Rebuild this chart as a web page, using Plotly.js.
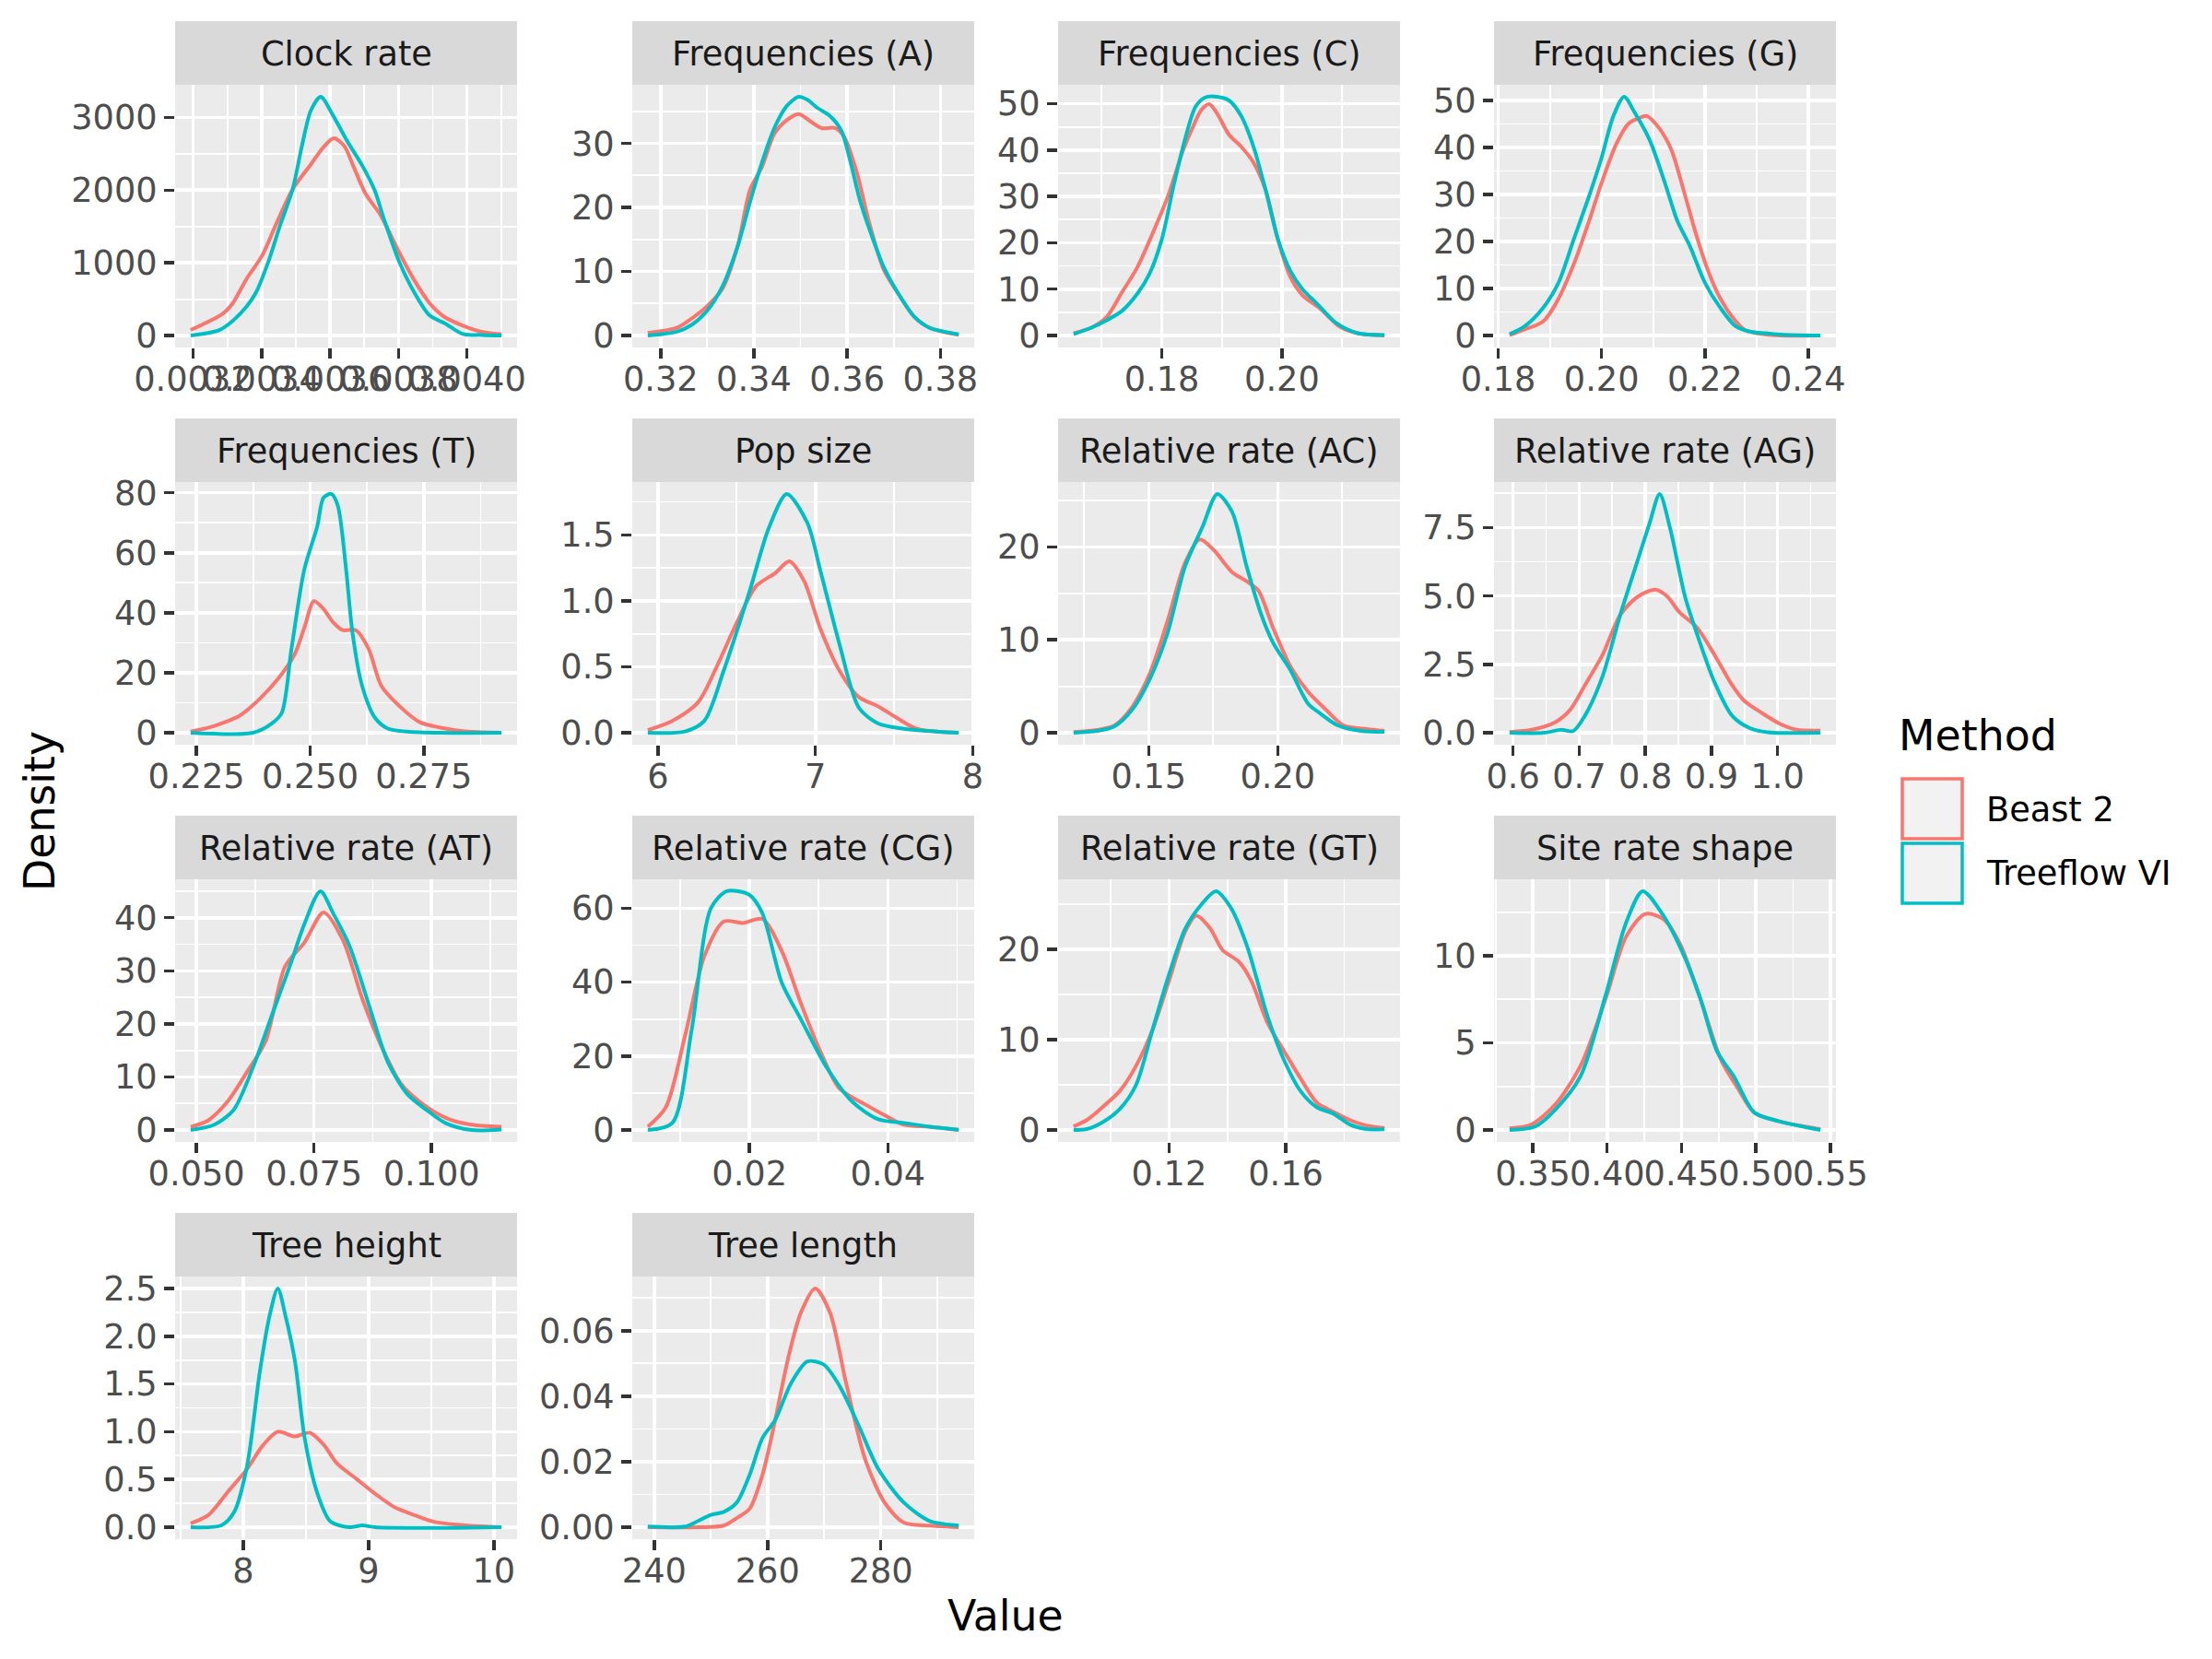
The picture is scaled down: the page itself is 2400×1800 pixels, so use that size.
<!DOCTYPE html>
<html><head><meta charset="utf-8">
<script src="https://cdn.plot.ly/plotly-3.0.1.min.js"></script>
<style>html,body{margin:0;padding:0;background:#fff}</style>
</head><body><div id="chart" style="width:2400px;height:1800px"></div>
<script>
// ---------------- data ----------------
const facetNames = ["Clock rate","Frequencies (A)","Frequencies (C)","Frequencies (G)",
  "Frequencies (T)","Pop size","Relative rate (AC)","Relative rate (AG)",
  "Relative rate (AT)","Relative rate (CG)","Relative rate (GT)","Site rate shape",
  "Tree height","Tree length"];
const methodNames = ["Beast 2","Treeflow VI"];
const methodColors = ["#F8766D","#00BFC4"];

// Clock rate
const clockBeastX = [0.003193,0.003286,0.003313,0.003357,0.003402,0.003446,0.003491,0.003544,0.003580,0.003611,0.003642,0.003668,0.003704,0.003748,0.003802,0.003846,0.003891,0.003935,0.003997,0.004042,0.004101];
const clockBeastY = [76,297,424,784,1102,1568,2013,2352,2585,2712,2606,2331,1949,1653,1144,763,445,254,119,51,17];
const clockTreeX = [0.003193,0.003277,0.003313,0.003357,0.003384,0.003420,0.003455,0.003491,0.003517,0.003544,0.003573,0.003606,0.003651,0.003695,0.003731,0.003757,0.003802,0.003846,0.003891,0.003935,0.003988,0.004042,0.004101];
const clockTreeY = [0,76,191,403,593,1017,1525,2013,2585,3093,3284,3051,2669,2331,1992,1610,1017,593,275,169,21,8,0];
const clockXTicks = [0.0032,0.0034,0.0036,0.0038,0.0040];
const clockXLabels = ["0.0032","0.0034","0.0036","0.0038","0.0040"];
const clockYTicks = [0,1000,2000,3000];
const clockYLabels = ["0","1000","2000","3000"];

// Frequencies (A)
const freqABeastX = [0.31725,0.32346,0.32673,0.33,0.33327,0.33654,0.33915,0.34176,0.34438,0.34699,0.34961,0.35222,0.35451,0.35745,0.35941,0.36203,0.36464,0.36791,0.37118,0.37444,0.37771,0.38392];
const freqABeastY = [0.4,1.2,2.7,4.6,7.3,14.0,22.7,26.4,31.5,33.6,34.6,33.4,32.4,32.4,31.0,25.6,17.9,10.2,6.3,2.9,1.2,0.1];
const freqATreeX = [0.31725,0.32346,0.32673,0.33,0.33327,0.33654,0.33915,0.34176,0.34438,0.34699,0.34961,0.35157,0.35353,0.35614,0.35876,0.36072,0.36268,0.36464,0.36791,0.37118,0.37444,0.37771,0.38392];
const freqATreeY = [0,0.6,1.7,3.9,7.7,14.0,20.8,27.1,32.4,35.8,37.3,36.8,35.6,34.4,32.0,27.1,21.3,16.9,10.6,6.3,2.9,1.2,0.2];
const freqAXTicks = [0.32,0.34,0.36,0.38];
const freqAXLabels = ["0.32","0.34","0.36","0.38"];
const freqAYTicks = [0,10,20,30];
const freqAYLabels = ["0","10","20","30"];

// Frequencies (C)
const freqCBeastX = [0.16534,0.16830,0.17084,0.17338,0.17593,0.17847,0.18102,0.18356,0.18509,0.18662,0.18789,0.18916,0.19120,0.19323,0.19527,0.19730,0.19934,0.20137,0.20341,0.20646,0.20952,0.21257,0.21705];
const freqCBeastY = [0.5,1.7,4.0,9.3,14.7,22.0,30.0,40.0,44.7,48.7,49.9,48.0,43.3,40.7,37.3,31.3,20.7,12.7,8.7,5.7,2.0,0.5,0];
const freqCTreeX = [0.16534,0.16830,0.17084,0.17338,0.17593,0.17796,0.18,0.18204,0.18407,0.18560,0.18712,0.18916,0.19120,0.19323,0.19527,0.19730,0.19934,0.20137,0.20341,0.20595,0.20901,0.21257,0.21705];
const freqCTreeY = [0.3,1.7,3.3,5.3,9.0,13.3,20.7,32.7,43.3,49.3,51.3,51.5,50.7,47.3,40.7,31.3,20.7,14.0,10.0,6.7,2.7,0.5,0.1];
const freqCXTicks = [0.18,0.20];
const freqCXLabels = ["0.18","0.20"];
const freqCYTicks = [0,10,20,30,40,50];
const freqCYLabels = ["0","10","20","30","40","50"];

// Frequencies (G)
const freqGBeastX = [0.18219,0.18514,0.18869,0.19106,0.19460,0.19756,0.19992,0.20288,0.20524,0.20761,0.20879,0.21116,0.21352,0.21589,0.21825,0.22062,0.22298,0.22534,0.22771,0.23126,0.23480,0.24237];
const freqGBeastY = [0.1,1.3,3.0,6.6,15.1,24.3,32.2,40.8,45.1,46.4,46.7,44.1,39.5,30.9,21.7,13.8,7.9,3.9,1.2,0.3,0,0];
const freqGTreeX = [0.18219,0.18514,0.18869,0.19165,0.19460,0.19756,0.19992,0.20229,0.20436,0.20643,0.20938,0.21234,0.21470,0.21707,0.22002,0.22298,0.22594,0.22889,0.23185,0.23480,0.24237];
const freqGTreeY = [0.3,2.0,5.9,11.2,20.4,29.6,37.5,46.7,50.8,47.4,41.4,32.2,24.3,19.1,11.2,5.9,2.0,0.8,0.5,0.2,0];
const freqGXTicks = [0.18,0.20,0.22,0.24];
const freqGXLabels = ["0.18","0.20","0.22","0.24"];
const freqGYTicks = [0,10,20,30,40,50];
const freqGYLabels = ["0","10","20","30","40","50"];

// Frequencies (T)
const freqTBeastX = [0.22373,0.22896,0.23460,0.23884,0.24308,0.24661,0.24873,0.25085,0.25297,0.25509,0.25720,0.26003,0.26285,0.26568,0.26992,0.27415,0.27839,0.28404,0.29209];
const freqTBeastY = [0.4,2.3,5.8,11.2,18.2,26.2,35.0,43.9,41.2,36.8,34.2,34.2,28.0,15.6,8.5,3.5,1.8,0.5,0];
const freqTTreeX = [0.22373,0.23743,0.24167,0.24378,0.24590,0.24873,0.25155,0.25297,0.25466,0.25607,0.25791,0.25932,0.26144,0.26426,0.26709,0.27133,0.27839,0.29209];
const freqTTreeY = [0,0,3.2,6.7,28.0,54.5,68.7,78.4,79.6,75.8,54.5,33.3,15.6,5.0,1.4,0.4,0,0];
const freqTXTicks = [0.225,0.250,0.275];
const freqTXLabels = ["0.225","0.250","0.275"];
const freqTYTicks = [0,20,40,60,80];
const freqTYLabels = ["0","20","40","60","80"];

// Pop size
const popBeastX = [5.935,6.090,6.254,6.376,6.499,6.622,6.744,6.834,6.928,7.031,7.153,7.276,7.399,7.521,7.644,7.910];
const popBeastY = [0.02,0.09,0.23,0.51,0.83,1.11,1.21,1.30,1.15,0.79,0.47,0.27,0.20,0.11,0.03,0];
const popTreeX = [5.935,6.172,6.294,6.417,6.581,6.703,6.818,6.949,7.031,7.153,7.276,7.399,7.562,7.910];
const popTreeY = [0,0.01,0.09,0.47,1.07,1.55,1.81,1.59,1.23,0.67,0.19,0.07,0.03,0];
const popXTicks = [6,7,8];
const popXLabels = ["6","7","8"];
const popYTicks = [0,0.5,1.0,1.5];
const popYLabels = ["0.0","0.5","1.0","1.5"];

// Relative rate (AC)
const acBeastX = [0.12091,0.13,0.13682,0.14364,0.15045,0.15727,0.16409,0.16977,0.17545,0.18227,0.18795,0.1925,0.19818,0.205,0.21182,0.21864,0.22545,0.23455,0.24136];
const acBeastY = [0.07,0.3,0.8,2.8,6.4,12.0,18.3,20.8,19.6,17.3,16.3,15.3,11.3,7.1,4.4,2.5,0.8,0.4,0.2];
const acTreeX = [0.12091,0.13,0.13682,0.14364,0.15045,0.15727,0.16409,0.17091,0.17659,0.18227,0.18795,0.19364,0.19818,0.205,0.21182,0.21636,0.22318,0.23227,0.24136];
const acTreeY = [0,0.2,0.7,2.5,5.8,10.7,17.9,22.2,25.7,23.8,17.9,12.7,9.7,6.7,3.1,2.1,0.8,0.2,0.1];
const acXTicks = [0.15,0.20];
const acXLabels = ["0.15","0.20"];
const acYTicks = [0,10,20];
const acYLabels = ["0","10","20"];

// Relative rate (AG)
const agBeastX = [0.5947,0.6285,0.6641,0.6864,0.7086,0.7354,0.7621,0.7888,0.8155,0.8333,0.8511,0.8778,0.9046,0.9313,0.9491,0.9758,1.0025,1.0292,1.0648];
const agBeastY = [0.03,0.11,0.39,0.84,1.74,2.85,4.31,4.98,5.23,4.98,4.42,3.86,2.85,1.74,1.18,0.73,0.34,0.11,0.08];
const agTreeX = [0.5947,0.6463,0.6730,0.6908,0.7086,0.7354,0.7621,0.7888,0.8066,0.8217,0.8378,0.8600,0.8778,0.9046,0.9313,0.9580,0.9847,1.0648];
const agTreeY = [0,0,0.11,0.06,0.62,2.07,4.31,6.33,7.67,8.73,7.44,4.98,3.64,1.85,0.62,0.17,0.02,0];
const agXTicks = [0.6,0.7,0.8,0.9,1.0];
const agXLabels = ["0.6","0.7","0.8","0.9","1.0"];
const agYTicks = [0,2.5,5.0,7.5];
const agYLabels = ["0.0","2.5","5.0","7.5"];

// Relative rate (AT)
const atBeastX = [0.04877,0.05246,0.05656,0.06066,0.06475,0.06885,0.07295,0.07705,0.08115,0.08525,0.08934,0.09344,0.09754,0.10301,0.10847,0.11489];
const atBeastY = [0.6,1.8,5.3,10.8,16.8,30.8,35.3,41.0,35.8,24.8,15.8,8.8,5.3,2.3,1.0,0.6];
const atTreeX = [0.04877,0.05383,0.05792,0.06202,0.06612,0.07022,0.07295,0.07637,0.07910,0.08251,0.08661,0.09071,0.09481,0.09891,0.10301,0.10847,0.11489];
const atTreeY = [0,1.0,3.8,11.8,21.8,31.8,38.8,45.0,40.8,34.8,23.8,12.8,6.8,3.8,1.3,0,0.1];
const atXTicks = [0.050,0.075,0.100];
const atXLabels = ["0.050","0.075","0.100"];
const atYTicks = [0,10,20,30,40];
const atYLabels = ["0","10","20","30","40"];

// Relative rate (CG)
const cgBeastX = [0.00530,0.00791,0.01070,0.01349,0.01628,0.01907,0.02186,0.02465,0.02744,0.03023,0.03302,0.03674,0.03953,0.04233,0.04605,0.05023];
const cgBeastY = [0.9,6.2,25.6,47.1,56.4,56.0,57.1,48.5,34.2,21.3,11.2,6.9,4.0,1.4,0.9,0];
const cgTreeX = [0.00530,0.00884,0.01163,0.01442,0.01674,0.02,0.02186,0.02465,0.02744,0.03116,0.03488,0.03860,0.04233,0.04605,0.05023];
const cgTreeY = [0,1.9,27.0,60.0,64.6,63.6,58.6,39.9,29.9,16.9,7.6,2.9,1.9,0.9,0.1];
const cgXTicks = [0.02,0.04];
const cgXLabels = ["0.02","0.04"];
const cgYTicks = [0,20,40,60];
const cgYLabels = ["0","20","40","60"];

// Relative rate (GT)
const gtBeastX = [0.08732,0.09183,0.09746,0.10310,0.10873,0.11437,0.12,0.12563,0.12930,0.13408,0.13831,0.14394,0.14817,0.15380,0.15944,0.16507,0.17070,0.17634,0.18197,0.18761,0.19380];
const gtBeastY = [0.4,1.1,2.6,4.3,7.1,11.1,16.5,22.0,23.7,22.3,19.9,18.6,16.5,11.8,8.7,5.7,3.0,2.0,1.1,0.5,0.2];
const gtTreeX = [0.08732,0.09183,0.09746,0.10310,0.10873,0.11437,0.12,0.12563,0.13127,0.13606,0.14113,0.14676,0.15380,0.15944,0.16507,0.17070,0.17634,0.18197,0.18761,0.19380];
const gtTreeY = [0,0.1,0.9,2.3,5.0,11.1,17.2,22.3,25.0,26.4,24.6,20.3,12.5,7.7,4.3,2.5,1.8,0.6,0.1,0.07];
const gtXTicks = [0.12,0.16];
const gtXLabels = ["0.12","0.16"];
const gtYTicks = [0,10,20];
const gtYLabels = ["0","10","20"];

// Site rate shape
const siteBeastX = [0.33444,0.34889,0.36556,0.38222,0.39889,0.41278,0.42556,0.43778,0.44889,0.46278,0.47667,0.48778,0.49889,0.51556,0.54333];
const siteBeastY = [0.1,0.3,1.5,3.7,7.5,11.1,12.4,12.1,10.7,7.5,4.0,2.4,1.0,0.5,0.05];
const siteTreeX = [0.33444,0.35167,0.36556,0.38222,0.39889,0.41278,0.42389,0.43778,0.45167,0.46278,0.47389,0.48500,0.49889,0.51556,0.54333];
const siteTreeY = [0,0.2,1.2,3.1,7.7,11.9,13.7,12.3,10.0,7.5,4.5,3.1,1.0,0.5,0];
const siteXTicks = [0.35,0.40,0.45,0.50,0.55];
const siteXLabels = ["0.35","0.40","0.45","0.50","0.55"];
const siteYTicks = [0,5,10];
const siteYLabels = ["0","5","10"];

// Tree height
const heightBeastX = [7.581,7.724,7.877,8.031,8.159,8.276,8.414,8.532,8.645,8.747,8.900,9.054,9.207,9.361,9.514,9.770,10.061];
const heightBeastY = [0.04,0.13,0.37,0.61,0.86,1.00,0.95,0.99,0.86,0.67,0.51,0.35,0.21,0.13,0.06,0.02,0];
const heightTreeX = [7.581,7.826,7.928,8.031,8.133,8.210,8.276,8.338,8.414,8.491,8.593,8.696,8.849,8.951,9.054,10.061];
const heightTreeY = [0,0.02,0.16,0.64,1.63,2.21,2.50,2.21,1.73,0.93,0.35,0.06,0,0.02,0,0];
const heightXTicks = [8,9,10];
const heightXLabels = ["8","9","10"];
const heightYTicks = [0,0.5,1.0,1.5,2.0,2.5];
const heightYLabels = ["0.0","0.5","1.0","1.5","2.0","2.5"];

// Tree length
const lengthBeastX = [238.86,247.73,252.27,254.55,256.82,259.09,261.36,263.64,265.91,268.41,271.02,273.86,277.27,280.68,284.09,288.64,293.75];
const lengthBeastY = [0,0,0.0005,0.0028,0.0056,0.0159,0.0328,0.0516,0.0656,0.0729,0.0656,0.0441,0.0206,0.0075,0.0014,0.0005,0];
const lengthTreeX = [238.86,245.45,247.73,250.0,252.27,254.55,256.82,259.09,261.36,264.20,267.05,269.89,272.73,276.14,279.55,284.09,288.64,293.75];
const lengthTreeY = [0.0002,0.0002,0.0019,0.0038,0.0047,0.0075,0.0159,0.0272,0.0328,0.0441,0.0506,0.0497,0.0431,0.0309,0.0178,0.0075,0.0019,0.0005];
const lengthXTicks = [240,260,280];
const lengthXLabels = ["240","260","280"];
const lengthYTicks = [0,0.02,0.04,0.06];
const lengthYLabels = ["0.00","0.02","0.04","0.06"];

// ---------------- assembly ----------------
const panelData = [
  [clockBeastX,clockBeastY,clockTreeX,clockTreeY,clockXTicks,clockXLabels,clockYTicks,clockYLabels],
  [freqABeastX,freqABeastY,freqATreeX,freqATreeY,freqAXTicks,freqAXLabels,freqAYTicks,freqAYLabels],
  [freqCBeastX,freqCBeastY,freqCTreeX,freqCTreeY,freqCXTicks,freqCXLabels,freqCYTicks,freqCYLabels],
  [freqGBeastX,freqGBeastY,freqGTreeX,freqGTreeY,freqGXTicks,freqGXLabels,freqGYTicks,freqGYLabels],
  [freqTBeastX,freqTBeastY,freqTTreeX,freqTTreeY,freqTXTicks,freqTXLabels,freqTYTicks,freqTYLabels],
  [popBeastX,popBeastY,popTreeX,popTreeY,popXTicks,popXLabels,popYTicks,popYLabels],
  [acBeastX,acBeastY,acTreeX,acTreeY,acXTicks,acXLabels,acYTicks,acYLabels],
  [agBeastX,agBeastY,agTreeX,agTreeY,agXTicks,agXLabels,agYTicks,agYLabels],
  [atBeastX,atBeastY,atTreeX,atTreeY,atXTicks,atXLabels,atYTicks,atYLabels],
  [cgBeastX,cgBeastY,cgTreeX,cgTreeY,cgXTicks,cgXLabels,cgYTicks,cgYLabels],
  [gtBeastX,gtBeastY,gtTreeX,gtTreeY,gtXTicks,gtXLabels,gtYTicks,gtYLabels],
  [siteBeastX,siteBeastY,siteTreeX,siteTreeY,siteXTicks,siteXLabels,siteYTicks,siteYLabels],
  [heightBeastX,heightBeastY,heightTreeX,heightTreeY,heightXTicks,heightXLabels,heightYTicks,heightYLabels],
  [lengthBeastX,lengthBeastY,lengthTreeX,lengthTreeY,lengthXTicks,lengthXLabels,lengthYTicks,lengthYLabels]
];

const W = 2400, H = 1800;
const colLeft = [190, 686, 1148, 1621];
const panelW = 371, stripTop0 = 23, rowPitch = 431, stripH = 69, panelH = 285;
const FONT = "DejaVu Sans, Verdana, sans-serif";
const SMALL = 36.7, LARGE = 45.8;

const traces = [];
const layout = {
  width: W, height: H,
  margin: {l:0, r:0, t:0, b:0},
  paper_bgcolor: "#FFFFFF",
  plot_bgcolor: "#EBEBEB",
  showlegend: false,
  shapes: [],
  annotations: [],
  font: {family: FONT}
};

function axisCommon(tv, tt, range, domain, anchor, standoff) {
  const step = tv.length > 1 ? tv[1] - tv[0] : 1;
  return {
    domain: domain, range: range, anchor: anchor,
    tickmode: "array", tickvals: tv, ticktext: tt,
    ticks: "outside", ticklen: 11, tickwidth: 3.5, tickcolor: "#333333",
    tickfont: {family: FONT, size: SMALL, color: "#4D4D4D"},
    tickangle: 0, ticklabelstandoff: standoff,
    showgrid: true, gridcolor: "#FFFFFF", gridwidth: 3.6,
    minor: {tickmode: "linear", tick0: tv[0] + step/2, dtick: step,
            showgrid: true, gridcolor: "#FFFFFF", gridwidth: 1.8, ticks: ""},
    zeroline: false, showline: false, fixedrange: true, automargin: false
  };
}

panelData.forEach((p, i) => {
  const [bx, by, tx, ty, xt, xl, yt, yl] = p;
  const r = Math.floor(i / 4), c = i % 4;
  const left = colLeft[c];
  const sTop = stripTop0 + rowPitch * r;
  const pTop = sTop + stripH, pBot = pTop + panelH;
  const allX = bx.concat(tx), allY = by.concat(ty);
  const xmin = Math.min(...allX), xmax = Math.max(...allX);
  const dx = xmax - xmin;
  const ymax = Math.max(...allY);
  const suf = i === 0 ? "" : String(i + 1);
  const xa = "x" + suf, ya = "y" + suf;
  layout["xaxis" + suf] = axisCommon(xt, xl, [xmin - 0.05*dx, xmax + 0.05*dx],
      [left / W, (left + panelW) / W], ya, -9);
  layout["yaxis" + suf] = axisCommon(yt, yl, [-0.05*ymax, 1.05*ymax],
      [1 - pBot / H, 1 - pTop / H], xa, 0);
  [[bx, by], [tx, ty]].forEach((s, k) => {
    traces.push({
      type: "scatter", mode: "lines", x: s[0], y: s[1],
      xaxis: xa, yaxis: ya, name: methodNames[k],
      line: {color: methodColors[k], width: 4, shape: "spline", smoothing: 0.8},
      hoverinfo: "skip", showlegend: false, cliponaxis: true
    });
  });
  layout.shapes.push({
    type: "rect", xref: "paper", yref: "paper", layer: "below",
    x0: left / W, x1: (left + panelW) / W,
    y0: 1 - (sTop + stripH) / H, y1: 1 - sTop / H,
    fillcolor: "#D9D9D9", line: {width: 0}
  });
  layout.annotations.push({
    xref: "paper", yref: "paper", x: (left + panelW / 2) / W, y: 1 - (sTop + stripH / 2 + 1) / H,
    text: facetNames[i], showarrow: false, xanchor: "center", yanchor: "middle",
    font: {family: FONT, size: SMALL, color: "#1A1A1A"}
  });
});

// axis titles
layout.annotations.push({
  xref: "paper", yref: "paper", x: 43 / W, y: 1 - 880 / H, text: "Density",
  textangle: -90, showarrow: false, xanchor: "center", yanchor: "middle",
  font: {family: FONT, size: LARGE, color: "#000000"}
});
layout.annotations.push({
  xref: "paper", yref: "paper", x: 1091 / W, y: 1 - 1753 / H, text: "Value",
  showarrow: false, xanchor: "center", yanchor: "middle",
  font: {family: FONT, size: LARGE, color: "#000000"}
});

// legend (drawn like ggplot keys)
layout.annotations.push({
  xref: "paper", yref: "paper", x: 2058 / W, y: 1 - 798 / H, text: "Method",
  showarrow: false, xanchor: "left", yanchor: "middle",
  font: {family: FONT, size: LARGE, color: "#000000"}
});
const keyTops = [843, 913];
methodNames.forEach((m, k) => {
  const t = keyTops[k];
  layout.shapes.push({
    type: "rect", xref: "paper", yref: "paper",
    x0: 2064 / W, x1: 2129 / W, y0: 1 - (t + 67) / H, y1: 1 - (t + 2) / H,
    fillcolor: "#F2F2F2", line: {color: methodColors[k], width: 3.5}
  });
  layout.annotations.push({
    xref: "paper", yref: "paper", x: 2153 / W, y: 1 - (t + 35) / H, text: m,
    showarrow: false, xanchor: "left", yanchor: "middle",
    font: {family: FONT, size: SMALL, color: "#000000"}
  });
});

Plotly.newPlot("chart", traces, layout, {staticPlot: true, displayModeBar: false});
</script>
</body></html>
